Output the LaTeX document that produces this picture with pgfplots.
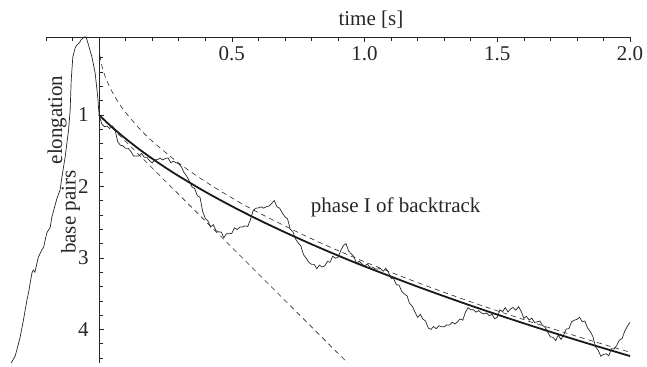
\documentclass[border=0pt]{standalone}
\usepackage{fontspec}
\setmainfont{Liberation Serif}
\usepackage{pgfplots}
\pgfplotsset{compat=1.18}
\begin{document}
\begin{tikzpicture}
\begin{axis}[
  scale only axis, width=584pt, height=326pt,
  xmin=-0.2, xmax=2.0, ymin=-0.09, ymax=4.47,
  y dir=reverse,
  clip=false,
  axis x line=top, axis y line=middle,
  axis line style={-, line width=0.7pt, color=black!85},
  xtick={0.5,1,1.5,2},
  minor xtick={-0.2,-0.1,0.1,0.2,0.3,0.4,0.6,0.7,0.8,0.9,1.1,1.2,1.3,1.4,1.6,1.7,1.8,1.9},
  ytick={1,2,3,4},
  minor ytick={0.2,0.4,0.6,0.8,1.2,1.4,1.6,1.8,2.2,2.4,2.6,2.8,3.2,3.4,3.6,3.8,4.2,4.4},
  tick align=inside,
  major tick length=5pt, minor tick length=3.5pt,
  tick style={line width=0.6pt, color=black!85},
  xticklabel style={/pgf/number format/fixed, /pgf/number format/fixed zerofill, /pgf/number format/precision=1, anchor=north, yshift=-6pt},
  yticklabel style={xshift=-7pt},
  /pgf/number format/assume math mode=true,
  ticklabel style={font=\fontsize{21}{25}\selectfont, text=black!85},
]
\path (axis cs:-0.3733,-0.6076) rectangle (axis cs:2.064,4.512);
% elongation
\addplot[black!85, line width=0.7pt] coordinates {
(-0.331,4.47)(-0.316,4.37)(-0.303,4.19)(-0.297,4.10)(-0.285,3.87)(-0.272,3.59)(-0.266,3.49)(-0.253,3.21)(-0.248,3.17)(-0.242,3.20)(-0.229,2.99)(-0.216,2.89)(-0.209,2.85)(-0.197,2.65)(-0.184,2.57)(-0.178,2.43)(-0.159,2.17)(-0.154,2.12)(-0.147,2.05)(-0.140,1.87)(-0.134,1.73)(-0.128,1.59)(-0.115,1.21)(-0.109,0.93)(-0.105,0.51)(-0.099,0.19)(-0.090,0.06)(-0.083,0.02)(-0.074,-0.01)(-0.068,-0.05)(-0.056,-0.09)(-0.049,-0.09)(-0.040,0.02)(-0.027,0.19)(-0.015,0.41)(-0.005,0.75)(0,1.0)
};
% trajectory
\addplot[black!85, line width=0.7pt] coordinates {
(0.00,1.000)(0.01,1.125)(0.02,1.164)(0.03,1.157)(0.04,1.190)(0.05,1.154)(0.06,1.204)(0.07,1.375)(0.08,1.424)(0.09,1.432)(0.10,1.468)(0.11,1.468)(0.12,1.513)(0.13,1.576)(0.14,1.574)(0.15,1.573)(0.16,1.539)(0.17,1.591)(0.18,1.591)(0.19,1.641)(0.20,1.670)(0.21,1.628)(0.22,1.625)(0.23,1.604)(0.24,1.630)(0.25,1.608)(0.26,1.602)(0.27,1.668)(0.28,1.647)(0.29,1.669)(0.30,1.684)(0.31,1.726)(0.32,1.807)(0.33,1.856)(0.34,1.924)(0.35,2.007)(0.36,2.029)(0.37,2.130)(0.38,2.151)(0.39,2.348)(0.40,2.447)(0.41,2.481)(0.42,2.569)(0.43,2.534)(0.44,2.616)(0.45,2.636)(0.46,2.637)(0.47,2.717)(0.48,2.661)(0.49,2.662)(0.50,2.656)(0.51,2.579)(0.52,2.604)(0.53,2.569)(0.54,2.567)(0.55,2.552)(0.56,2.560)(0.57,2.465)(0.58,2.340)(0.59,2.306)(0.60,2.300)(0.61,2.286)(0.62,2.304)(0.63,2.283)(0.64,2.274)(0.65,2.238)(0.66,2.197)(0.67,2.284)(0.68,2.305)(0.69,2.369)(0.70,2.426)(0.71,2.454)(0.72,2.597)(0.73,2.632)(0.74,2.735)(0.75,2.790)(0.76,2.833)(0.77,2.955)(0.78,3.004)(0.79,3.061)(0.80,3.090)(0.81,3.090)(0.82,3.150)(0.83,3.101)(0.84,3.127)(0.85,3.112)(0.86,3.050)(0.87,3.060)(0.88,2.976)(0.89,3.005)(0.90,2.992)(0.91,2.901)(0.92,2.828)(0.93,2.800)(0.94,2.903)(0.95,2.944)(0.96,2.980)(0.97,3.081)(0.98,3.046)(0.99,3.082)(1.00,3.118)(1.01,3.083)(1.02,3.129)(1.03,3.129)(1.04,3.155)(1.05,3.154)(1.06,3.148)(1.07,3.186)(1.08,3.144)(1.09,3.201)(1.10,3.286)(1.11,3.293)(1.12,3.374)(1.13,3.381)(1.14,3.469)(1.15,3.503)(1.16,3.532)(1.17,3.640)(1.18,3.675)(1.19,3.760)(1.20,3.831)(1.21,3.789)(1.22,3.856)(1.23,3.884)(1.24,3.980)(1.25,4.000)(1.26,3.959)(1.27,3.990)(1.28,3.948)(1.29,3.963)(1.30,3.964)(1.31,3.936)(1.32,3.940)(1.33,3.898)(1.34,3.924)(1.35,3.895)(1.36,3.854)(1.37,3.871)(1.38,3.759)(1.39,3.697)(1.40,3.726)(1.41,3.726)(1.42,3.758)(1.43,3.737)(1.44,3.770)(1.45,3.783)(1.46,3.770)(1.47,3.808)(1.48,3.787)(1.49,3.851)(1.50,3.831)(1.51,3.726)(1.52,3.751)(1.53,3.695)(1.54,3.756)(1.55,3.713)(1.56,3.693)(1.57,3.731)(1.58,3.682)(1.59,3.746)(1.60,3.845)(1.61,3.817)(1.62,3.870)(1.63,3.842)(1.64,3.903)(1.65,3.895)(1.66,3.882)(1.67,3.941)(1.68,3.969)(1.69,4.040)(1.70,4.104)(1.71,4.111)(1.72,4.157)(1.73,4.080)(1.74,4.141)(1.75,4.077)(1.76,3.994)(1.77,3.990)(1.78,3.892)(1.79,3.872)(1.80,3.859)(1.81,3.831)(1.82,3.891)(1.83,3.884)(1.84,3.980)(1.85,4.028)(1.86,4.099)(1.87,4.242)(1.88,4.291)(1.89,4.376)(1.90,4.349)(1.91,4.342)(1.92,4.367)(1.93,4.269)(1.94,4.274)(1.95,4.224)(1.96,4.148)(1.97,4.130)(1.98,4.025)(1.99,3.956)(2.00,3.901)
};
% fit curve
\addplot[black!90, line width=1.8pt, smooth] coordinates {
(0,1)(0.01,1.0367)(0.02,1.0725)(0.03,1.1075)(0.05,1.175)(0.075,1.2557)(0.1,1.332)(0.15,1.4769)(0.2,1.611)(0.25,1.7364)(0.3,1.855)(0.4,2.075)(0.5,2.277)(0.6,2.465)(0.7,2.641)(0.8,2.808)(0.9,2.967)(1.0,3.118)(1.2,3.402)(1.4,3.667)(1.6,3.915)(1.8,4.150)(2.0,4.373)
};
% tangent
\addplot[black!85, line width=0.6pt, dash pattern=on 5pt off 4pt] coordinates {(0,1)(0.936,4.468)};
% sqrt dashed
\addplot[black!85, line width=0.6pt, dash pattern=on 5pt off 4pt, smooth] coordinates {
(0.003,0.167)(0.01,0.305)(0.02,0.432)(0.04,0.611)(0.07,0.808)(0.1,0.966)(0.15,1.183)(0.2,1.366)(0.3,1.673)(0.4,1.932)(0.5,2.160)(0.6,2.366)(0.8,2.732)(1.0,3.054)(1.2,3.345)(1.4,3.614)(1.6,3.863)(1.8,4.097)(2.0,4.319)
};
\node[font=\fontsize{21}{25}\selectfont, text=black!85] at (axis cs:1.024,-0.33) {time [s]};
\node[font=\fontsize{21}{25}\selectfont, text=black!85, rotate=90] at (axis cs:-0.158,1.07) {elongation};
\node[font=\fontsize{21}{25}\selectfont, text=black!85, rotate=90] at (axis cs:-0.107,2.36) {base pairs};
\node[font=\fontsize{21}{25}\selectfont, text=black!85, anchor=base] at (axis cs:1.117,2.371) {phase I of backtrack};
\end{axis}
\end{tikzpicture}
\end{document}
